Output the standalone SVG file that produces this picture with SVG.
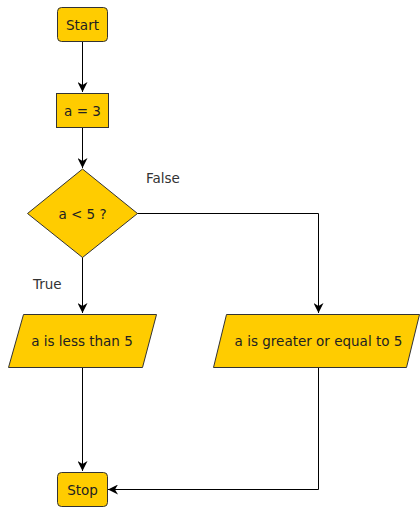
<svg xmlns="http://www.w3.org/2000/svg" width="420" height="507" viewBox="0 0 420 507">
<style>
.n{fill:#FFCC00;stroke:#333333;stroke-width:1}
.t{font-family:"DejaVu Sans",sans-serif;font-size:13.5px;fill:#222222;text-anchor:middle;dominant-baseline:central}
.l{font-family:"DejaVu Sans",sans-serif;font-size:13.5px;fill:#333333}
.c{fill:none;stroke:#000000;stroke-width:1}
</style>
<defs>
<marker id="a" viewBox="0 0 10 10" refX="10" refY="5" markerWidth="10" markerHeight="10" markerUnits="userSpaceOnUse" orient="auto">
<path d="M0,0 L10,5 L0,10 L3,5 Z" fill="#000000"/>
</marker>
</defs>
<g id="connectors">
<path class="c" d="M82.5,41 V92" marker-end="url(#a)"/>
<path class="c" d="M82.5,127 V168" marker-end="url(#a)"/>
<path class="c" d="M82.5,257 V313" marker-end="url(#a)"/>
<path class="c" d="M137,213.5 H318.5 V313" marker-end="url(#a)"/>
<path class="c" d="M82.5,367 V471" marker-end="url(#a)"/>
<path class="c" d="M318.5,367 V489.5 H108" marker-end="url(#a)"/>
<text class="l" x="146" y="183">False</text>
<text class="l" x="33" y="289">True</text>
</g>
<g id="start">
<rect class="n" x="57.5" y="7.5" width="50" height="34" rx="4"/>
<text class="t" x="82.5" y="24.5">Start</text>
</g>
<g id="assign">
<rect class="n" x="56.5" y="93.5" width="52" height="34"/>
<text class="t" x="82.5" y="110.5">a = 3</text>
</g>
<g id="decision">
<path class="n" d="M82.5,169 L137.5,213.5 L82.5,257.5 L27.5,213.5 Z"/>
<text class="t" x="82.5" y="213.5">a &lt; 5 ?</text>
</g>
<g id="less">
<path class="n" d="M23.5,314.5 H156.5 L142.5,367.5 H8.5 Z"/>
<text class="t" x="82" y="340.5">a is less than 5</text>
</g>
<g id="greater">
<path class="n" d="M226.5,314.5 H419.5 L406.5,367.5 H213.5 Z"/>
<text class="t" x="318.5" y="340.5">a is greater or equal to 5</text>
</g>
<g id="stop">
<rect class="n" x="57.5" y="472.5" width="50" height="34" rx="4"/>
<text class="t" x="82.5" y="489.5">Stop</text>
</g>
</svg>
